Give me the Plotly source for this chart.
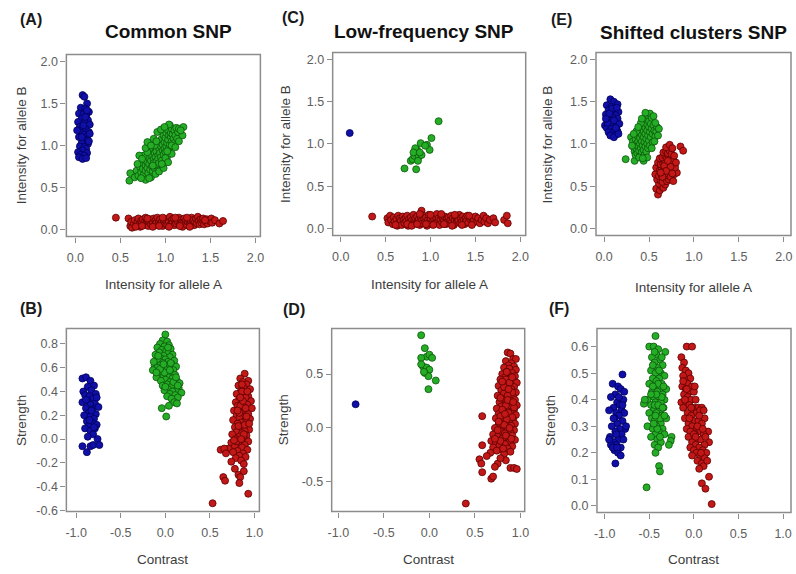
import plotly.graph_objects as go

W, H = 796, 574

# ---------------- genotype cluster data ----------------
# Panel A: common SNP, allele intensities (A, B)
a_blue = [(0.08,1.60),(0.10,1.58),(0.13,1.50),(0.06,1.45),(0.11,1.44),(0.15,1.40),(0.04,1.38),(0.09,1.37),
          (0.12,1.35),(0.07,1.32),(0.14,1.30),(0.03,1.28),(0.10,1.27),(0.16,1.25),(0.05,1.22),(0.08,1.20),
          (0.12,1.19),(0.15,1.16),(0.06,1.15),(0.10,1.13),(0.13,1.11),(0.04,1.10),(0.09,1.08),(0.16,1.14),
          (0.11,1.05),(0.07,1.03),(0.14,1.02),(0.05,0.99),(0.10,0.98),(0.12,0.96),(0.08,0.94),(0.03,0.92),
          (0.13,0.91),(0.06,0.89),(0.10,0.88),(0.04,0.86),(0.08,0.84),(0.12,0.85),(0.15,1.05),(0.02,1.18),
          (0.09,1.24),(0.13,1.42),(0.11,1.34),(0.07,1.10)]
a_green = [(0.60,0.58),(0.61,0.67),(0.66,0.62),(0.68,0.70),(0.70,0.64),(0.72,0.74),(0.73,0.68),(0.74,0.79),
           (0.75,0.72),(0.76,0.65),(0.77,0.83),(0.78,0.76),(0.78,0.70),(0.79,0.88),(0.80,0.80),(0.80,0.73),
           (0.81,0.67),(0.82,0.85),(0.82,0.78),(0.83,0.92),(0.83,0.71),(0.84,0.82),(0.85,0.88),(0.85,0.75),
           (0.86,0.95),(0.86,0.69),(0.87,0.84),(0.87,0.79),(0.88,0.91),(0.88,0.73),(0.89,0.98),(0.89,0.86),
           (0.90,0.81),(0.90,0.93),(0.91,0.76),(0.91,1.02),(0.92,0.88),(0.92,0.84),(0.93,0.96),(0.93,0.79),
           (0.94,1.05),(0.94,0.91),(0.95,0.86),(0.95,0.99),(0.96,1.08),(0.96,0.82),(0.97,0.94),(0.97,1.01),
           (0.98,0.89),(0.98,1.12),(0.99,1.04),(0.99,0.96),(1.00,0.92),(1.00,1.09),(1.01,1.15),(1.01,0.99),
           (1.02,1.03),(1.02,0.87),(1.03,1.18),(1.03,1.07),(1.04,0.97),(1.04,1.12),(1.05,1.24),(1.05,1.01),
           (1.06,1.10),(1.06,1.15),(1.07,1.05),(1.07,1.20),(1.08,0.99),(1.08,1.13),(1.09,1.08),(1.10,1.18),
           (1.10,1.03),(1.11,1.12),(1.12,1.21),(1.13,1.08),(1.14,1.16),(1.15,1.20),(1.20,1.22),(0.84,0.62),
           (0.92,0.70),(0.76,0.88),(0.88,1.00),(0.97,0.76),(1.00,0.85),(0.80,0.92),
           (0.71,0.88),(0.74,0.84),(0.78,0.97),(0.80,1.04),(0.84,1.00),(0.87,1.08),(0.91,1.16),(0.95,1.19),
           (1.04,1.25),(0.99,1.22),(0.78,0.59),(0.82,0.61),(0.89,0.66),(0.93,0.69),(0.98,0.73),(1.03,0.80),
           (1.07,0.90),(1.07,1.00),(1.11,0.98),(1.15,1.05),(1.19,1.12),(1.17,1.18),(0.73,0.61),(0.69,0.78),
           (0.96,0.78),(1.02,0.93),(0.86,0.76),(0.90,1.05)]
a_red = [(0.45,0.14),(0.59,0.13),(0.61,0.04),(0.62,0.09),(0.63,0.02),(0.65,0.07),(0.66,0.11),(0.68,0.05),
         (0.69,0.09),(0.70,0.13),(0.71,0.06),(0.72,0.03),(0.73,0.10),(0.74,0.08),(0.75,0.12),(0.76,0.05),
         (0.77,0.09),(0.78,0.14),(0.79,0.07),(0.80,0.11),(0.81,0.04),(0.82,0.09),(0.83,0.12),(0.84,0.06),
         (0.85,0.10),(0.86,0.08),(0.87,0.13),(0.88,0.05),(0.89,0.11),(0.90,0.08),(0.91,0.14),(0.92,0.06),
         (0.93,0.10),(0.94,0.12),(0.95,0.07),(0.96,0.09),(0.97,0.04),(0.98,0.11),(0.99,0.13),(1.00,0.07),
         (1.01,0.10),(1.02,0.05),(1.03,0.12),(1.04,0.09),(1.05,0.15),(1.06,0.06),(1.07,0.11),(1.08,0.08),
         (1.09,0.13),(1.10,0.05),(1.11,0.10),(1.12,0.07),(1.13,0.12),(1.14,0.09),(1.15,0.14),(1.16,0.06),
         (1.17,0.11),(1.18,0.08),(1.19,0.03),(1.20,0.10),(1.21,0.13),(1.22,0.07),(1.23,0.11),(1.24,0.05),
         (1.25,0.09),(1.26,0.12),(1.27,0.06),(1.28,0.10),(1.29,0.14),(1.30,0.08),(1.31,0.11),(1.32,0.05),
         (1.33,0.09),(1.34,0.13),(1.35,0.07),(1.36,0.15),(1.37,0.10),(1.38,0.06),(1.39,0.12),(1.40,0.08),
         (1.41,0.11),(1.42,0.13),(1.43,0.06),(1.45,0.09),(1.46,0.12),(1.47,0.07),(1.49,0.10),(1.51,0.13),
         (1.52,0.08),(1.55,0.11),(1.60,0.07),(1.64,0.10),(0.67,0.03),(0.74,0.04),(0.86,0.03),(0.93,0.04),
         (1.04,0.03),(1.16,0.04),(1.27,0.03),(0.80,0.13),(0.97,0.14),(1.11,0.14),(1.24,0.14),(1.44,0.11)]

# Panel C: low-frequency SNP
c_blue = [(0.10,1.13)]
c_green = [(0.71,0.71),(0.84,0.70),(0.78,0.80),(0.80,0.82),(0.82,0.86),(0.84,0.90),(0.85,0.93),(0.83,0.95),
           (0.87,0.85),(0.86,0.80),(0.89,1.01),(0.90,0.87),(0.96,0.99),(0.99,0.93),(1.01,1.07),(1.09,1.27),
           (0.94,0.98),(0.81,0.90),(0.88,0.90)]
c_red = [(0.35,0.14),(0.52,0.12),(0.53,0.07),(0.55,0.15),(0.56,0.10),(0.58,0.05),(0.59,0.13),(0.60,0.08),
         (0.62,0.11),(0.63,0.03),(0.64,0.15),(0.65,0.07),(0.66,0.12),(0.67,0.09),(0.68,0.04),(0.69,0.14),
         (0.70,0.10),(0.71,0.06),(0.72,0.12),(0.73,0.08),(0.74,0.15),(0.75,0.03),(0.76,0.11),(0.77,0.07),
         (0.78,0.13),(0.79,0.09),(0.80,0.05),(0.81,0.16),(0.82,0.10),(0.83,0.12),(0.84,0.06),(0.85,0.14),
         (0.86,0.08),(0.87,0.11),(0.88,0.04),(0.89,0.13),(0.90,0.21),(0.90,0.09),(0.91,0.06),(0.92,0.15),
         (0.93,0.11),(0.94,0.07),(0.95,0.13),(0.96,0.03),(0.97,0.10),(0.98,0.16),(0.99,0.08),(1.00,0.12),
         (1.01,0.05),(1.02,0.14),(1.03,0.09),(1.04,0.11),(1.05,0.06),(1.06,0.13),(1.07,0.17),(1.08,0.08),
         (1.09,0.12),(1.10,0.04),(1.11,0.10),(1.12,0.15),(1.13,0.07),(1.14,0.12),(1.15,0.09),(1.16,0.14),
         (1.17,0.05),(1.18,0.11),(1.19,0.08),(1.20,0.13),(1.21,0.06),(1.22,0.10),(1.23,0.15),(1.24,0.08),
         (1.25,0.12),(1.26,0.04),(1.27,0.10),(1.28,0.14),(1.29,0.07),(1.30,0.11),(1.31,0.09),(1.32,0.16),
         (1.33,0.06),(1.34,0.12),(1.35,0.08),(1.36,0.14),(1.37,0.10),(1.38,0.05),(1.39,0.12),(1.40,0.09),
         (1.41,0.15),(1.42,0.07),(1.44,0.11),(1.45,0.13),(1.47,0.06),(1.48,0.10),(1.50,0.14),(1.52,0.08),
         (1.53,0.12),(1.55,0.06),(1.57,0.10),(1.59,0.15),(1.60,0.08),(1.62,0.12),(1.64,0.06),(1.66,0.10),
         (1.70,0.12),(1.72,0.07),(1.82,0.10),(1.85,0.15),(1.86,0.06),(0.61,0.04),(0.74,0.05),(0.79,0.03),
         (0.85,0.05),(0.95,0.05),(1.03,0.04),(1.15,0.05),(1.24,0.03),(1.35,0.04),(1.46,0.04),(0.88,0.17),
         (1.00,0.16),(1.12,0.17),(1.27,0.16),(1.43,0.15)]

# Panel E: shifted clusters SNP
e_blue = [(0.07,1.53),(0.11,1.50),(0.03,1.46),(0.15,1.47),(0.08,1.44),(0.12,1.41),(0.05,1.40),(0.16,1.38),
          (0.09,1.37),(0.02,1.35),(0.13,1.34),(0.06,1.32),(0.10,1.31),(0.15,1.30),(0.04,1.28),(0.08,1.27),
          (0.12,1.26),(0.01,1.22),(0.06,1.24),(0.10,1.22),(0.14,1.21),(0.17,1.24),(0.03,1.19),(0.08,1.18),
          (0.12,1.17),(0.15,1.15),(0.05,1.14),(0.10,1.13),(0.13,1.11),(0.07,1.10),(0.11,1.08),(0.16,1.12),
          (0.04,1.25),(0.09,1.42),(0.14,1.43),(0.06,1.36),(0.11,1.28),(0.02,1.30),(0.13,1.19)]
e_green = [(0.24,0.82),(0.34,0.80),(0.44,0.80),(0.30,1.08),(0.32,1.03),(0.33,0.96),(0.34,0.91),(0.35,1.06),
           (0.35,0.87),(0.36,1.00),(0.36,0.94),(0.37,1.10),(0.37,0.89),(0.38,1.03),(0.38,0.97),(0.39,1.14),
           (0.39,0.92),(0.40,1.07),(0.40,1.00),(0.40,0.86),(0.41,1.18),(0.41,0.95),(0.42,1.11),(0.42,1.03),
           (0.42,0.90),(0.43,1.22),(0.43,0.98),(0.44,1.08),(0.44,1.15),(0.44,0.93),(0.45,1.26),(0.45,1.02),
           (0.45,0.87),(0.46,1.12),(0.46,1.19),(0.46,0.97),(0.47,1.30),(0.47,1.06),(0.47,0.91),(0.48,1.16),
           (0.48,1.23),(0.48,1.00),(0.49,1.34),(0.49,1.10),(0.49,0.95),(0.50,1.20),(0.50,1.27),(0.50,1.04),
           (0.51,1.36),(0.51,1.14),(0.51,0.98),(0.52,1.24),(0.52,1.08),(0.53,1.31),(0.53,1.18),(0.54,1.12),
           (0.54,1.02),(0.55,1.22),(0.55,1.33),(0.56,1.16),(0.57,1.09),(0.58,1.15),(0.59,1.20),(0.61,1.18),
           (0.46,1.37),(0.39,0.84),(0.48,0.84),(0.41,1.25),(0.43,0.83),(0.36,1.15),(0.53,0.95),(0.57,1.25),
           (0.31,0.98),(0.33,1.12),(0.38,1.20),(0.42,1.30),(0.56,1.03),(0.60,1.10)]
e_red = [(0.60,0.40),(0.58,0.47),(0.62,0.45),(0.64,0.50),(0.61,0.53),(0.66,0.48),(0.68,0.52),(0.59,0.58),
         (0.63,0.57),(0.65,0.55),(0.67,0.60),(0.70,0.56),(0.72,0.58),(0.57,0.64),(0.61,0.62),(0.64,0.63),
         (0.66,0.66),(0.69,0.63),(0.71,0.65),(0.74,0.61),(0.77,0.56),(0.58,0.72),(0.62,0.69),(0.64,0.71),
         (0.67,0.70),(0.70,0.72),(0.72,0.69),(0.75,0.68),(0.78,0.64),(0.81,0.66),(0.60,0.78),(0.63,0.76),
         (0.66,0.77),(0.68,0.79),(0.71,0.76),(0.73,0.78),(0.76,0.74),(0.79,0.72),(0.62,0.83),(0.65,0.84),
         (0.68,0.86),(0.70,0.83),(0.72,0.85),(0.74,0.82),(0.77,0.80),(0.80,0.78),(0.66,0.90),(0.69,0.91),
         (0.71,0.89),(0.73,0.92),(0.75,0.88),(0.78,0.86),(0.69,0.96),(0.73,0.99),(0.76,0.95),(0.85,0.97),
         (0.88,0.92),(0.67,0.74),(0.74,0.73),(0.69,0.68),(0.65,0.61),(0.71,0.80),(0.76,0.65),(0.63,0.66)]

# Panel B: common SNP, contrast / strength
b_blue = [(-0.93,0.51),(-0.89,0.52),(-0.84,0.49),(-0.80,0.45),(-0.87,0.44),(-0.92,0.40),(-0.83,0.41),
          (-0.78,0.38),(-0.90,0.37),(-0.85,0.36),(-0.81,0.34),(-0.87,0.32),(-0.93,0.31),(-0.79,0.30),
          (-0.84,0.29),(-0.75,0.27),(-0.89,0.26),(-0.82,0.25),(-0.86,0.22),(-0.78,0.21),(-0.91,0.20),
          (-0.84,0.19),(-0.80,0.17),(-0.88,0.15),(-0.82,0.14),(-0.77,0.12),(-0.86,0.11),(-0.90,0.09),
          (-0.79,0.09),(-0.84,0.07),(-0.81,0.04),(-0.76,0.00),(-0.87,0.02),(-0.93,-0.06),(-0.84,-0.06),
          (-0.81,-0.05),(-0.74,-0.05),(-0.88,-0.11),(-0.77,0.35),(-0.83,0.24),(-0.89,0.33),(-0.80,0.10),
          (-0.85,0.16)]
b_green = [(0.00,0.88),(-0.03,0.83),(0.02,0.82),(-0.06,0.80),(0.04,0.79),(-0.01,0.78),(-0.09,0.77),
           (0.06,0.76),(-0.04,0.75),(0.01,0.74),(-0.07,0.73),(0.03,0.72),(-0.11,0.71),(0.08,0.71),
           (-0.02,0.70),(0.05,0.69),(-0.05,0.68),(0.00,0.67),(-0.08,0.66),(0.10,0.66),(0.03,0.65),
           (-0.03,0.64),(0.07,0.63),(-0.12,0.62),(-0.06,0.62),(0.01,0.61),(0.12,0.61),(-0.09,0.60),
           (0.04,0.60),(-0.01,0.59),(0.09,0.58),(-0.14,0.58),(-0.04,0.57),(0.06,0.56),(0.02,0.55),
           (-0.07,0.55),(0.11,0.54),(-0.02,0.53),(0.04,0.52),(-0.10,0.52),(0.08,0.51),(0.00,0.50),
           (0.13,0.49),(-0.05,0.49),(0.05,0.48),(0.16,0.47),(0.02,0.46),(0.10,0.45),(-0.03,0.45),
           (0.07,0.44),(0.15,0.43),(0.03,0.42),(0.12,0.41),(-0.01,0.41),(0.08,0.40),(0.18,0.39),
           (0.05,0.38),(0.11,0.37),(0.02,0.36),(0.14,0.35),(0.07,0.34),(0.10,0.31),(0.13,0.30),
           (0.04,0.28),(-0.04,0.26),(0.01,0.19),(-0.13,0.65),(-0.08,0.70),(0.06,0.64),(-0.01,0.56),
           (0.09,0.48),(-0.06,0.59),(0.03,0.77),(-0.02,0.63),(0.05,0.58),(0.00,0.44),(0.14,0.45),
           (-0.10,0.56),(0.12,0.52)]
b_red = [(0.89,0.55),(0.84,0.51),(0.93,0.49),(0.87,0.48),(0.91,0.46),(0.82,0.45),(0.88,0.43),(0.95,0.42),
         (0.85,0.41),(0.90,0.39),(0.80,0.38),(0.87,0.37),(0.93,0.36),(0.83,0.34),(0.89,0.33),(0.96,0.32),
         (0.79,0.31),(0.86,0.30),(0.92,0.29),(0.81,0.28),(0.88,0.27),(0.97,0.26),(0.84,0.25),(0.77,0.24),
         (0.90,0.23),(0.86,0.22),(0.93,0.21),(0.80,0.20),(0.88,0.19),(0.83,0.18),(0.95,0.17),(0.76,0.16),
         (0.90,0.15),(0.85,0.14),(0.81,0.13),(0.92,0.12),(0.87,0.11),(0.78,0.10),(0.84,0.09),(0.94,0.08),
         (0.89,0.07),(0.80,0.06),(0.86,0.05),(0.75,0.04),(0.91,0.03),(0.83,0.02),(0.88,0.01),(0.79,0.00),
         (0.85,-0.01),(0.93,-0.02),(0.74,-0.03),(0.82,-0.04),(0.89,-0.05),(0.78,-0.06),(0.86,-0.07),
         (0.71,-0.08),(0.92,-0.09),(0.81,-0.10),(0.76,-0.11),(0.87,-0.12),(0.83,-0.14),(0.90,-0.15),
         (0.79,-0.16),(0.85,-0.18),(0.74,-0.19),(0.88,-0.21),(0.78,-0.25),(0.82,-0.30),(0.84,-0.32),
         (0.83,-0.37),(0.88,-0.27),(0.65,-0.32),(0.67,-0.35),(0.93,-0.46),(0.53,-0.54),(0.62,-0.09),
         (0.66,-0.08),(0.68,-0.12),(0.86,0.46),(0.90,0.35),(0.84,0.28),(0.91,0.19),(0.82,0.11),(0.88,0.04),
         (0.80,-0.02),(0.86,0.40),(0.87,0.32),(0.83,0.22),(0.89,0.12),(0.85,0.00),(0.77,-0.01),(0.84,0.35),
         (0.90,0.26),(0.94,0.13),(0.92,0.40),(0.81,0.24)]

# Panel D: low-frequency SNP, contrast / strength
d_blue = [(-0.81,0.22)]
d_green = [(-0.09,0.86),(-0.05,0.74),(-0.03,0.66),(-0.09,0.65),(0.00,0.68),(0.03,0.65),(-0.07,0.57),
           (-0.03,0.56),(-0.09,0.59),(0.00,0.54),(-0.05,0.51),(-0.01,0.48),(0.07,0.44),(-0.01,0.36),
           (-0.06,0.52)]
d_red = [(0.86,0.70),(0.89,0.69),(0.92,0.64),(0.95,0.64),(0.84,0.62),(0.90,0.60),(0.87,0.58),(0.93,0.57),
         (0.82,0.56),(0.88,0.55),(0.95,0.54),(0.85,0.52),(0.91,0.51),(0.80,0.50),(0.87,0.49),(0.94,0.48),
         (0.83,0.47),(0.89,0.46),(0.78,0.45),(0.92,0.44),(0.85,0.43),(0.96,0.42),(0.81,0.41),(0.88,0.40),
         (0.76,0.39),(0.93,0.38),(0.84,0.37),(0.90,0.36),(0.79,0.35),(0.86,0.34),(0.95,0.33),(0.82,0.32),
         (0.89,0.31),(0.75,0.30),(0.92,0.29),(0.85,0.28),(0.80,0.27),(0.94,0.26),(0.87,0.25),(0.77,0.24),
         (0.91,0.23),(0.83,0.22),(0.96,0.21),(0.79,0.20),(0.88,0.19),(0.74,0.18),(0.93,0.17),(0.85,0.16),
         (0.81,0.15),(0.90,0.14),(0.76,0.13),(0.95,0.12),(0.87,0.11),(0.83,0.10),(0.73,0.09),(0.92,0.08),
         (0.79,0.07),(0.88,0.06),(0.84,0.05),(0.94,0.04),(0.76,0.03),(0.90,0.02),(0.81,0.01),(0.72,0.00),
         (0.86,-0.01),(0.93,-0.02),(0.78,-0.03),(0.89,-0.04),(0.83,-0.05),(0.70,-0.06),(0.91,-0.07),
         (0.75,-0.08),(0.86,-0.09),(0.80,-0.10),(0.94,-0.11),(0.68,-0.12),(0.88,-0.13),(0.73,-0.14),
         (0.83,-0.15),(0.77,-0.16),(0.91,-0.17),(0.70,-0.18),(0.86,-0.19),(0.80,-0.20),(0.74,-0.21),
         (0.89,-0.22),(0.67,-0.23),(0.82,-0.24),(0.84,0.45),(0.88,0.42),(0.82,0.38),(0.91,0.33),(0.86,0.30),
         (0.78,0.28),(0.89,0.25),(0.84,0.21),(0.93,0.19),(0.80,0.17),(0.87,0.14),(0.91,0.10),(0.78,0.11),
         (0.85,0.08),(0.82,0.03),(0.88,0.00),(0.75,-0.02),(0.84,-0.07),(0.78,-0.12),(0.90,-0.10),
         (0.72,-0.10),(0.81,-0.19),(0.85,0.52),(0.91,0.47),(0.86,0.26),(0.83,0.13),(0.92,0.24),(0.76,0.06),
         (0.87,0.36),(0.80,0.43),(0.58,0.11),(0.58,-0.16),(0.55,-0.29),(0.57,-0.33),(0.58,-0.41),
         (0.68,-0.47),(0.70,-0.45),(0.84,-0.30),(0.89,-0.37),(0.93,-0.37),(0.96,-0.38),(0.40,-0.70),
         (0.63,-0.26),(0.75,-0.33),(0.78,-0.28),(0.72,-0.36)]

# Panel F: shifted clusters SNP, contrast / strength
f_blue = [(-0.80,0.495),(-0.91,0.46),(-0.85,0.45),(-0.82,0.44),(-0.88,0.42),(-0.93,0.41),(-0.79,0.40),
          (-0.86,0.39),(-0.83,0.38),(-0.90,0.37),(-0.81,0.36),(-0.95,0.36),(-0.87,0.35),(-0.78,0.35),
          (-0.84,0.34),(-0.89,0.33),(-0.80,0.32),(-0.86,0.31),(-0.92,0.30),(-0.77,0.29),(-0.83,0.29),
          (-0.88,0.28),(-0.81,0.27),(-0.94,0.26),(-0.85,0.25),(-0.79,0.25),(-0.90,0.24),(-0.87,0.23),
          (-0.93,0.23),(-0.82,0.22),(-0.89,0.21),(-0.85,0.20),(-0.91,0.22),(-0.82,0.19),(-0.88,0.16),
          (-0.76,0.30),(-0.84,0.41),(-0.87,0.27),(-0.90,0.33),(-0.80,0.38),(-0.95,0.25),(-0.78,0.43),
          (-0.86,0.22)]
f_green = [(-0.43,0.64),(-0.50,0.60),(-0.45,0.60),(-0.40,0.59),(-0.32,0.58),(-0.42,0.57),(-0.47,0.56),
           (-0.38,0.55),(-0.44,0.54),(-0.35,0.53),(-0.41,0.52),(-0.48,0.51),(-0.37,0.50),(-0.43,0.50),
           (-0.33,0.49),(-0.46,0.48),(-0.39,0.48),(-0.42,0.47),(-0.36,0.46),(-0.50,0.46),(-0.44,0.45),
           (-0.38,0.44),(-0.31,0.44),(-0.47,0.43),(-0.41,0.43),(-0.35,0.42),(-0.45,0.41),(-0.39,0.41),
           (-0.52,0.40),(-0.33,0.40),(-0.43,0.39),(-0.37,0.39),(-0.48,0.38),(-0.56,0.385),(-0.41,0.37),
           (-0.34,0.37),(-0.45,0.36),(-0.38,0.36),(-0.50,0.35),(-0.42,0.35),(-0.36,0.34),(-0.47,0.33),
           (-0.40,0.33),(-0.31,0.33),(-0.44,0.32),(-0.37,0.31),(-0.52,0.30),(-0.42,0.30),(-0.35,0.29),
           (-0.46,0.29),(-0.39,0.28),(-0.43,0.27),(-0.33,0.27),(-0.48,0.26),(-0.41,0.25),(-0.25,0.26),
           (-0.37,0.24),(-0.26,0.245),(-0.44,0.23),(-0.28,0.23),(-0.40,0.22),(-0.43,0.20),(-0.39,0.15),
           (-0.38,0.13),(-0.53,0.07),(-0.46,0.53),(-0.40,0.46),(-0.36,0.41),(-0.44,0.38),(-0.38,0.33),
           (-0.43,0.34),(-0.40,0.38),(-0.46,0.45),(-0.34,0.45),(-0.42,0.42),(-0.39,0.51),(-0.44,0.58),
           (-0.55,0.40),(-0.36,0.56),(-0.41,0.29),(-0.45,0.31),(-0.33,0.34),(-0.48,0.42),(-0.38,0.26),
           (-0.35,0.37)]
f_red = [(-0.08,0.60),(-0.02,0.60),(-0.14,0.56),(-0.11,0.54),(-0.13,0.52),(-0.09,0.51),(-0.06,0.50),
         (-0.12,0.49),(-0.04,0.48),(-0.10,0.47),(-0.07,0.46),(-0.02,0.45),(-0.13,0.45),(-0.09,0.44),
         (-0.05,0.43),(0.00,0.43),(-0.11,0.42),(-0.07,0.41),(-0.03,0.40),(0.02,0.40),(-0.14,0.39),
         (-0.09,0.38),(-0.05,0.38),(0.01,0.37),(0.05,0.37),(0.09,0.37),(-0.12,0.37),(-0.01,0.36),
         (0.03,0.35),(0.07,0.36),(0.11,0.36),(-0.07,0.35),(-0.03,0.34),(0.12,0.33),(-0.10,0.33),
         (0.00,0.32),(0.05,0.32),(-0.06,0.31),(0.09,0.31),(-0.02,0.30),(0.03,0.29),(-0.08,0.29),
         (0.07,0.28),(0.16,0.28),(-0.04,0.28),(0.01,0.27),(0.11,0.27),(-0.06,0.26),(0.04,0.25),
         (0.08,0.25),(-0.02,0.24),(0.17,0.24),(0.02,0.23),(0.12,0.23),(-0.04,0.22),(0.06,0.22),
         (0.00,0.21),(0.10,0.21),(0.03,0.20),(0.14,0.20),(-0.02,0.19),(0.07,0.19),(0.12,0.18),
         (0.04,0.17),(0.09,0.16),(0.11,0.15),(0.15,0.17),(0.06,0.14),(0.17,0.11),(0.09,0.085),
         (0.13,0.065),(0.20,0.007),(0.00,0.27),(-0.05,0.33),(0.04,0.30),(-0.10,0.40),(0.06,0.34),
         (0.02,0.26),(-0.08,0.44),(0.10,0.29),(-0.03,0.37),(0.08,0.20),(-0.12,0.47),(0.01,0.45),
         (0.13,0.26)]

# ---------------- tick labels ----------------
top_ticks = [0.0, 0.5, 1.0, 1.5, 2.0]
top_ticktext = ["0.0", "0.5", "1.0", "1.5", "2.0"]
contrast_ticks = [-1.0, -0.5, 0.0, 0.5, 1.0]
contrast_ticktext = ["-1.0", "-0.5", "0.0", "0.5", "1.0"]
b_yticks = [-0.6, -0.4, -0.2, 0.0, 0.2, 0.4, 0.6, 0.8]
b_yticktext = ["-0.6", "-0.4", "-0.2", "0.0", "0.2", "0.4", "0.6", "0.8"]
d_yticks = [-0.5, 0.0, 0.5]
d_yticktext = ["-0.5", "0.0", "0.5"]
f_yticks = [0.0, 0.1, 0.2, 0.3, 0.4, 0.5, 0.6]
f_yticktext = ["0.0", "0.1", "0.2", "0.3", "0.4", "0.5", "0.6"]

COLORS = {
    "blue": ("#1010a8", "#00005a"),
    "green": ("#26ad26", "#0b560b"),
    "red": ("#c21818", "#5c0000"),
}

panels = [
    dict(label="(A)", lab_xy=(27, 20), title="Common SNP", title_xy=(166, 32),
         box=(63, 259, 55, 239), xr=[-0.1, 2.055], yr=[-0.085, 2.085],
         xt=(top_ticks, top_ticktext), yt=(top_ticks, top_ticktext),
         xlab="Intensity for allele A", ylab="Intensity for allele B", xlab_y=288, ylab_x=18,
         data=[(a_red, "red"), (a_green, "green"), (a_blue, "blue")]),
    dict(label="(C)", lab_xy=(292, 18), title="Low-frequency SNP", title_xy=(424, 32),
         box=(332, 527, 53, 238), xr=[-0.09, 2.06], yr=[-0.085, 2.085],
         xt=(top_ticks, top_ticktext), yt=(top_ticks, top_ticktext),
         xlab="Intensity for allele A", ylab="Intensity for allele B", xlab_y=287, ylab_x=285,
         data=[(c_red, "red"), (c_green, "green"), (c_blue, "blue")]),
    dict(label="(E)", lab_xy=(563, 20), title="Shifted clusters SNP", title_xy=(697, 33),
         box=(598, 795, 53, 238), xr=[-0.09, 2.08], yr=[-0.085, 2.085],
         xt=(top_ticks, top_ticktext), yt=(top_ticks, top_ticktext),
         xlab="Intensity for allele A", ylab="Intensity for allele B", xlab_y=291, ylab_x=550,
         data=[(e_red, "red"), (e_green, "green"), (e_blue, "blue")]),
    dict(label="(B)", lab_xy=(27, 312), title=None, title_xy=None,
         box=(63, 258, 332, 517), xr=[-1.11, 1.055], yr=[-0.61, 0.93],
         xt=(contrast_ticks, contrast_ticktext), yt=(b_yticks, b_yticktext),
         xlab="Contrast", ylab="Strength", xlab_y=565, ylab_x=17,
         data=[(b_red, "red"), (b_green, "green"), (b_blue, "blue")]),
    dict(label="(D)", lab_xy=(293, 313), title=None, title_xy=None,
         box=(331, 526, 332, 517), xr=[-1.073, 1.047], yr=[-0.775, 0.922],
         xt=(contrast_ticks, contrast_ticktext), yt=(d_yticks, d_yticktext),
         xlab="Contrast", ylab="Strength", xlab_y=565, ylab_x=282,
         data=[(d_red, "red"), (d_green, "green"), (d_blue, "blue")]),
    dict(label="(F)", lab_xy=(561, 312), title=None, title_xy=None,
         box=(599, 795, 332, 518), xr=[-1.086, 1.089], yr=[-0.025, 0.668],
         xt=(contrast_ticks, contrast_ticktext), yt=(f_yticks, f_yticktext),
         xlab="Contrast", ylab="Strength", xlab_y=565, ylab_x=552,
         data=[(f_red, "red"), (f_green, "green"), (f_blue, "blue")]),
]

AXIS_GREY = "#8c8c8c"
FONT = "Liberation Sans, Arial, sans-serif"
TICK_FONT = dict(family=FONT, size=12.5, color="#5e5e5e")

fig = go.Figure()
layout = dict(
    width=W, height=H, margin=dict(l=0, r=0, t=0, b=0),
    paper_bgcolor="white", plot_bgcolor="white", showlegend=False,
    annotations=[], shapes=[],
)

for i, p in enumerate(panels):
    sfx = "" if i == 0 else str(i + 1)
    x0, x1, y0, y1 = p["box"]
    common = dict(showline=False, ticks="outside", ticklen=5, tickwidth=1.2, tickcolor=AXIS_GREY,
                  showgrid=False, zeroline=False, tickfont=TICK_FONT, fixedrange=True)
    layout["xaxis" + sfx] = dict(domain=[x0 / W, x1 / W], range=p["xr"], anchor="y" + sfx,
                                 tickvals=p["xt"][0], ticktext=p["xt"][1],
                                 ticklabelstandoff=4, **common)
    layout["yaxis" + sfx] = dict(domain=[1 - y1 / H, 1 - y0 / H], range=p["yr"], anchor="x" + sfx,
                                 tickvals=p["yt"][0], ticktext=p["yt"][1], **common)

    # plot frame
    layout["shapes"].append(dict(type="rect", xref="x" + sfx + " domain", yref="y" + sfx + " domain",
                                 x0=0, x1=1, y0=0, y1=1, line=dict(color=AXIS_GREY, width=1.5),
                                 fillcolor="rgba(0,0,0,0)", layer="above"))

    for pts, cname in p["data"]:
        fill, edge = COLORS[cname]
        fig.add_trace(go.Scatter(
            x=[q[0] for q in pts], y=[q[1] for q in pts], mode="markers",
            xaxis="x" + sfx, yaxis="y" + sfx, hoverinfo="skip", cliponaxis=False,
            marker=dict(size=7, color=fill, line=dict(color=edge, width=0.8)),
        ))

    ann = layout["annotations"]
    lx, ly = p["lab_xy"]
    ann.append(dict(text="<b>" + p["label"] + "</b>", x=lx / W, y=1 - ly / H, xref="paper", yref="paper",
                    showarrow=False, xanchor="center", yanchor="middle",
                    font=dict(family=FONT, size=16, color="#1a1a1a")))
    if p["title"]:
        tx, ty = p["title_xy"]
        ann.append(dict(text="<b>" + p["title"] + "</b>", x=tx / W, y=1 - ty / H, xref="paper", yref="paper",
                        showarrow=False, xanchor="center", yanchor="middle",
                        font=dict(family=FONT, size=19, color="#111111")))
    ann.append(dict(text=p["xlab"], x=(x0 + x1) / 2 / W, y=1 - p["xlab_y"] / H, xref="paper", yref="paper",
                    showarrow=False, xanchor="center", yanchor="middle",
                    font=dict(family=FONT, size=13.5, color="#3c3c3c")))
    ann.append(dict(text=p["ylab"], x=p["ylab_x"] / W, y=1 - (y0 + y1) / 2 / H, xref="paper", yref="paper",
                    showarrow=False, xanchor="center", yanchor="middle", textangle=-90,
                    font=dict(family=FONT, size=13.5, color="#3c3c3c")))

fig.update_layout(**layout)
fig.write_html("out.html")
